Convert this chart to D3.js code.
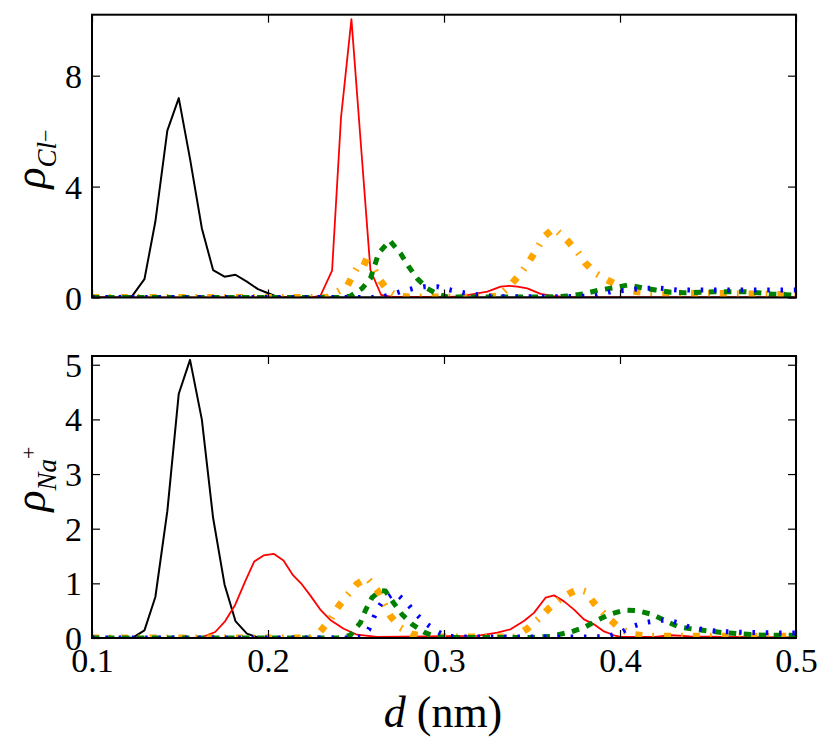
<!DOCTYPE html>
<html>
<head>
<meta charset="utf-8">
<script src="https://cdn.jsdelivr.net/npm/d3@7"></script>
<style>
  body { margin: 0; background: #fff; }
  svg text { font-family: "Liberation Serif", "DejaVu Serif", serif; }
</style>
</head>
<body>
<svg id="chart" width="833" height="753"></svg>
<script>
// ---- data: [d (nm), rho] ----
const dTicks = [0.1, 0.2, 0.3, 0.4, 0.5];
const clTicks = [0, 4, 8];
const naTicks = [0, 1, 2, 3, 4, 5];

// top panel, Cl-
const clBlack = [[0.1,0],[0.1165,0],[0.1228,0.05],[0.1298,0.66],[0.136,2.74],[0.1428,6.02],[0.1493,7.19],[0.1557,5.0],[0.1624,2.5],[0.1688,0.99],[0.1753,0.75],[0.1815,0.82],[0.188,0.57],[0.1943,0.30],[0.1994,0.17],[0.205,0.03],[0.212,0],[0.5,0]];
const clRed = [[0.1,0],[0.2233,0],[0.2297,0.05],[0.2364,0.97],[0.2415,6.5],[0.2474,10.04],[0.2528,5.5],[0.2582,0.99],[0.2643,0.09],[0.2707,0.02],[0.3031,0.02],[0.3094,0.04],[0.3246,0.21],[0.3322,0.39],[0.3369,0.42],[0.3417,0.39],[0.3473,0.33],[0.3549,0.13],[0.3623,0.05],[0.3701,0.02],[0.38,0],[0.5,0]];
const clOrange = [[0.1,0],[0.2335,0],[0.2392,0.2],[0.2449,0.4],[0.2487,0.87],[0.2531,1.33],[0.2592,1.17],[0.263,0.69],[0.2677,0.27],[0.2734,0.05],[0.28,0.02],[0.325,0.02],[0.3312,0.05],[0.3378,0.45],[0.3435,0.87],[0.3483,1.29],[0.353,1.78],[0.3568,2.19],[0.3625,2.5],[0.3701,2.05],[0.3758,1.65],[0.3805,1.23],[0.3862,0.87],[0.3929,0.63],[0.3985,0.45],[0.4042,0.27],[0.41,0.21],[0.42,0.17],[0.44,0.15],[0.46,0.14],[0.48,0.12],[0.5,0.1]];
const clGreen = [[0.1,0],[0.2405,0],[0.2468,0.05],[0.2535,0.33],[0.2582,0.69],[0.2629,1.6],[0.2692,2.05],[0.2752,1.6],[0.28,1.11],[0.2847,0.69],[0.2904,0.33],[0.2961,0.13],[0.3018,0.02],[0.36,0.02],[0.3701,0.05],[0.3795,0.13],[0.3881,0.27],[0.3966,0.35],[0.4042,0.45],[0.4128,0.35],[0.4203,0.27],[0.4289,0.19],[0.4364,0.17],[0.4459,0.19],[0.4535,0.21],[0.462,0.21],[0.4706,0.21],[0.4782,0.17],[0.4858,0.13],[0.4943,0.1],[0.5,0.08]];
const clBlue = [[0.1,0],[0.26,0],[0.2657,0.03],[0.2752,0.21],[0.2828,0.33],[0.2885,0.39],[0.2961,0.39],[0.3037,0.27],[0.3113,0.17],[0.3189,0.1],[0.33,0.03],[0.37,0.03],[0.3852,0.05],[0.3947,0.21],[0.4042,0.27],[0.4137,0.33],[0.4232,0.33],[0.4327,0.27],[0.4478,0.27],[0.4632,0.27],[0.4765,0.27],[0.4897,0.27],[0.5,0.27]];

// bottom panel, Na+
const naBlack = [[0.1,0],[0.117,0],[0.1235,0.01],[0.1298,0.14],[0.136,0.75],[0.1428,2.32],[0.1493,4.47],[0.1557,5.09],[0.1624,4.0],[0.1688,2.2],[0.1753,0.98],[0.1815,0.31],[0.188,0.08],[0.1943,0.01],[0.2,0],[0.5,0]];
const naRed = [[0.1,0],[0.157,0],[0.1624,0.01],[0.17,0.11],[0.1757,0.31],[0.1814,0.61],[0.1871,1.04],[0.1922,1.4],[0.1975,1.51],[0.2032,1.54],[0.2088,1.42],[0.2142,1.15],[0.2193,0.98],[0.224,0.78],[0.2297,0.52],[0.2354,0.33],[0.243,0.17],[0.2506,0.06],[0.262,0.02],[0.3189,0.04],[0.3303,0.1],[0.3378,0.16],[0.3454,0.31],[0.3511,0.46],[0.3578,0.74],[0.3625,0.78],[0.3682,0.67],[0.3739,0.52],[0.3795,0.34],[0.3852,0.25],[0.3909,0.12],[0.3966,0.05],[0.4004,0.02],[0.42,0.02],[0.4289,0.05],[0.44,0.03],[0.46,0.02],[0.5,0.01]];
const naOrange = [[0.1,0],[0.224,0],[0.2297,0.12],[0.2354,0.34],[0.2401,0.58],[0.2449,0.78],[0.2506,0.99],[0.2563,1.1],[0.262,0.88],[0.2696,0.4],[0.2752,0.19],[0.2819,0.07],[0.2895,0.02],[0.34,0.02],[0.3473,0.17],[0.354,0.36],[0.3596,0.54],[0.3663,0.72],[0.372,0.83],[0.3767,0.89],[0.3805,0.85],[0.3852,0.64],[0.3929,0.38],[0.4004,0.16],[0.408,0.06],[0.4175,0.03],[0.5,0.03]];
const naGreen = [[0.1,0],[0.24,0],[0.2468,0.05],[0.2525,0.28],[0.2553,0.5],[0.2591,0.74],[0.2639,0.87],[0.2667,0.86],[0.2714,0.64],[0.2762,0.43],[0.2819,0.25],[0.2885,0.11],[0.2942,0.03],[0.3,0.01],[0.35,0.01],[0.3606,0.03],[0.372,0.11],[0.3795,0.19],[0.3862,0.31],[0.3938,0.43],[0.4023,0.51],[0.4099,0.5],[0.4185,0.43],[0.426,0.31],[0.4336,0.2],[0.4421,0.16],[0.4498,0.13],[0.4583,0.1],[0.4668,0.08],[0.4754,0.06],[0.4839,0.05],[0.5,0.05]];
const naBlue = [[0.1,0],[0.247,0],[0.2525,0.02],[0.2572,0.15],[0.262,0.52],[0.2657,0.7],[0.2724,0.83],[0.279,0.64],[0.2847,0.42],[0.2904,0.25],[0.2961,0.12],[0.3018,0.03],[0.3094,0.02],[0.385,0.02],[0.3929,0.03],[0.4004,0.1],[0.4061,0.2],[0.4137,0.28],[0.4213,0.32],[0.427,0.33],[0.4327,0.28],[0.4402,0.19],[0.4555,0.12],[0.4744,0.1],[0.5,0.09]];

// line styles, in plotting order
const styles = [
  { color: "black",   width: 2,   dash: null },
  { color: "red",     width: 1.8, dash: null },
  { color: "#ffa500", width: 7,   dash: "7,10,1.8,10" },
  { color: "green",   width: 5,   dash: "7.5,7.5" },
  { color: "blue",    width: 5,   dash: "2.5,10.8" }
];

const svg = d3.select("#chart");
const left = 92, right = 796;

const x = d3.scaleLinear().domain([0.1, 0.5]).range([left, right]);

function panel(id, series, yMax, ticks, top, bottom, showX) {
  const y = d3.scaleLinear().domain([0, yMax]).range([bottom, top]);
  const g = svg.append("g");

  g.append("clipPath").attr("id", "clip-" + id)
    .append("rect").attr("x", left).attr("y", top)
    .attr("width", right - left).attr("height", bottom - top);

  const line = d3.line().x(d => x(d[0])).y(d => y(d[1]));
  const lines = g.append("g").attr("clip-path", "url(#clip-" + id + ")");
  series.forEach((s, i) => {
    lines.append("path").datum(s)
      .attr("d", line)
      .attr("fill", "none")
      .attr("stroke", styles[i].color)
      .attr("stroke-width", styles[i].width)
      .attr("stroke-dasharray", styles[i].dash)
      .attr("stroke-linejoin", "round");
  });

  // ticks point inwards on all four sides
  const yl = g.append("g").attr("transform", `translate(${left},0)`)
    .call(d3.axisLeft(y).tickValues(ticks).tickSize(-8).tickPadding(10).tickFormat(d3.format("d")));
  g.append("g").attr("transform", `translate(${right},0)`)
    .call(d3.axisRight(y).tickValues(ticks).tickSize(-8).tickFormat(""));
  g.append("g").attr("transform", `translate(0,${bottom})`)
    .call(d3.axisBottom(x).tickValues(dTicks).tickSize(-8).tickPadding(10)
      .tickFormat(showX ? d3.format(".1f") : ""));
  g.append("g").attr("transform", `translate(0,${top})`)
    .call(d3.axisTop(x).tickValues(dTicks).tickSize(-8).tickFormat(""));

  g.selectAll(".domain").remove();
  g.selectAll(".tick line").attr("stroke", "black").attr("stroke-width", 1.2);
  g.selectAll(".tick text").attr("fill", "black").style("font-size", "34px");
  yl.selectAll(".tick text").attr("dy", "0.34em");

  g.append("rect").attr("x", left).attr("y", top)
    .attr("width", right - left).attr("height", bottom - top)
    .attr("fill", "none").attr("stroke", "black").attr("stroke-width", 2);
  return y;
}

panel("cl", [clBlack, clRed, clOrange, clGreen, clBlue], 10.2, clTicks, 14.7, 297.5, false);
panel("na", [naBlack, naRed, naOrange, naGreen, naBlue], 5.16, naTicks, 356, 638, true);

// axis titles
const xt = svg.append("text").attr("x", 443).attr("y", 727)
  .attr("text-anchor", "middle").style("font-size", "44px");
xt.append("tspan").style("font-style", "italic").text("d");
xt.append("tspan").text(" (nm)");

function yTitle(cx, cy, sub, sup, supDy) {
  const t = svg.append("text")
    .attr("transform", `translate(${cx},${cy}) rotate(-90)`)
    .attr("text-anchor", "middle");
  t.append("tspan").style("font-style", "italic").style("font-size", "44px").text("ρ");
  t.append("tspan").style("font-style", "italic").style("font-size", "27px")
    .attr("dy", 11).text(sub);
  t.append("tspan").style("font-size", "22px").attr("dy", supDy).text(sup);
}
yTitle(45, 159, "Cl", "−", -3);
yTitle(45, 479, "Na", "+", -20);
</script>
</body>
</html>
